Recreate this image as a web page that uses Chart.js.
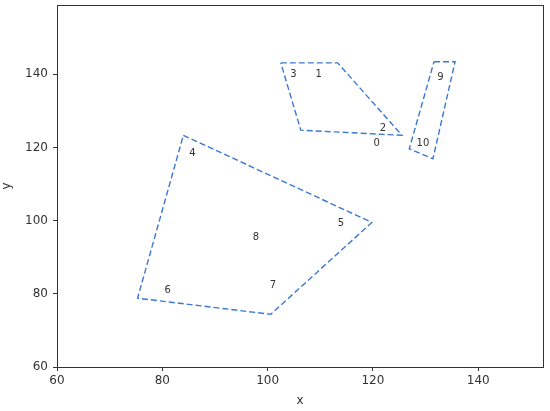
<!DOCTYPE html>
<html>
<head>
<meta charset="utf-8">
<script src="https://cdn.jsdelivr.net/npm/chart.js@4.4.1/dist/chart.umd.min.js"></script>
<style>
  html, body { margin: 0; padding: 0; background: #fff; }
  #wrap { width: 550px; height: 411px; }
</style>
</head>
<body>
<div id="wrap"><canvas id="grafica"></canvas></div>
<script>
// hull outlines (x, y) of the three groups
const hullA_x = [102.5, 113.3, 125.5, 106.3];
const hullA_y = [143.1, 143.1, 123.3, 124.7];
const hullB_x = [131.6, 135.6, 131.4, 126.9];
const hullB_y = [143.4, 143.4, 116.9, 119.6];
const hullC_x = [84.0, 119.8, 100.6, 75.3];
const hullC_y = [123.3, 99.5, 74.4, 78.8];

// point labels and where they sit
const etiquetas = ["0", "1", "2", "3", "4", "5", "6", "7", "8", "9", "10"];
const etiq_x = [120.7, 109.7, 121.9, 104.9, 85.7, 113.9, 81.0, 101.0, 97.8, 132.8, 129.5];
const etiq_y = [121.2, 140.0, 125.1, 140.0, 118.3, 99.3, 81.0, 82.2, 95.3, 139.1, 121.2];

const xTicks = [60, 80, 100, 120, 140];
const yTicks = [60, 80, 100, 120, 140];
const xMin = 60, xMax = 152.3;
const yMin = 60, yMax = 158.9;

const azul = "#3b78d4";
const gris = "#333333";

function cerrar(xs, ys) {
    let pts = xs.map((x, i) => ({ x: x, y: ys[i] }));
    pts.push({ x: xs[0], y: ys[0] });
    return pts;
}

function hull(xs, ys) {
    return {
        data: cerrar(xs, ys),
        showLine: true,
        borderColor: azul,
        borderWidth: 1.4,
        borderDash: [6, 3],
        pointRadius: 0,
        fill: false,
        tension: 0
    };
}

// texto de cada punto + marco completo
const extras = {
    id: "extras",
    afterDatasetsDraw(chart) {
        const ctx = chart.ctx;
        const sx = chart.scales.x, sy = chart.scales.y;
        ctx.save();
        ctx.fillStyle = gris;
        ctx.font = "10px 'DejaVu Sans'";
        ctx.textAlign = "center";
        ctx.textBaseline = "middle";
        etiquetas.forEach((t, i) => {
            ctx.fillText(t, sx.getPixelForValue(etiq_x[i]), sy.getPixelForValue(etiq_y[i]));
        });
        const a = chart.chartArea;
        ctx.strokeStyle = gris;
        ctx.lineWidth = 1;
        ctx.strokeRect(Math.round(a.left) + 0.5, Math.round(a.top) + 0.5,
            Math.round(a.right - a.left), Math.round(a.bottom - a.top));
        ctx.restore();
    }
};

new Chart(document.getElementById("grafica"), {
    type: "scatter",
    data: {
        datasets: [hull(hullA_x, hullA_y), hull(hullB_x, hullB_y), hull(hullC_x, hullC_y)]
    },
    options: {
        responsive: true,
        maintainAspectRatio: false,
        animation: false,
        layout: { padding: { top: 5, right: 7, left: 0, bottom: 0 } },
        plugins: {
            legend: { display: false },
            tooltip: { enabled: false }
        },
        scales: {
            x: {
                type: "linear",
                min: xMin,
                max: xMax,
                afterBuildTicks: s => { s.ticks = xTicks.map(v => ({ value: v })); },
                afterFit: s => { s.height = 44; },
                grid: { drawOnChartArea: false, drawTicks: true, tickLength: 4, tickColor: gris },
                border: { color: gris },
                ticks: { color: gris, padding: 3, font: { family: "DejaVu Sans", size: 12 } },
                title: { display: true, text: "x", color: gris, padding: { top: 0, bottom: 3 },
                         font: { family: "DejaVu Sans", size: 12 } }
            },
            y: {
                type: "linear",
                min: yMin,
                max: yMax,
                afterBuildTicks: s => { s.ticks = yTicks.map(v => ({ value: v })); },
                afterFit: s => { s.width = 57; s.paddingTop = 0; },
                grid: { drawOnChartArea: false, drawTicks: true, tickLength: 4, tickColor: gris },
                border: { color: gris },
                ticks: { color: gris, padding: 5, font: { family: "DejaVu Sans", size: 12 } },
                title: { display: true, text: "y", color: gris, padding: { top: 0, bottom: 0 },
                         font: { family: "DejaVu Sans", size: 12 } }
            }
        }
    },
    plugins: [extras]
});
</script>
</body>
</html>
